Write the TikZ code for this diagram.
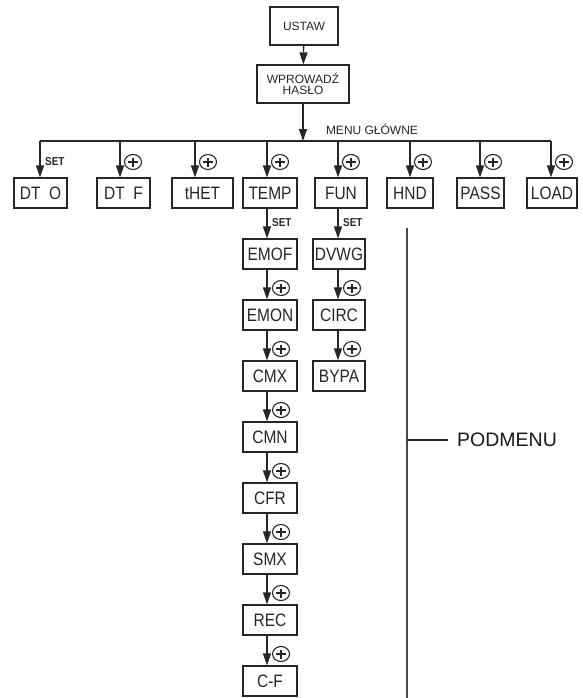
\documentclass[tikz,border=0pt]{standalone}
\usepackage{fontspec}
\setmainfont{Liberation Sans}
\newfontfamily\boxfont[FakeStretch=0.86]{Liberation Sans}
\usetikzlibrary{arrows.meta,shapes.geometric}

\tikzset{
  ink/.style={draw=black!85},
  box/.style={ink, line width=1.2pt, minimum height=30pt, inner sep=0pt,
    text=black!85, font=\boxfont\fontsize{18}{20}\selectfont},
  topbox/.style={ink, line width=1.2pt, minimum height=38pt, inner sep=0pt,
    align=center, text=black!85, font=\fontsize{12}{12}\selectfont},
  ln/.style={ink, line width=1.3pt},
  arr/.style={ln, -{Triangle[length=12pt,width=8pt]}},
  setlbl/.style={anchor=west, inner sep=0pt, text=black!85,
    font=\bfseries\boxfont\fontsize{11.5}{12}\selectfont},
  plusmark/.style={ellipse, ink, line width=1.1pt, minimum width=17pt,
    minimum height=15pt, inner sep=0pt,
    path picture={\draw[black!85, line width=1.2pt]
      (path picture bounding box.center) ++(-5pt,0pt) -- ++(10pt,0pt)
      (path picture bounding box.center) ++(0pt,-4.5pt) -- ++(0pt,9pt);}},
}

\begin{document}
\begin{tikzpicture}[x=1pt,y=-1pt]
\useasboundingbox (0,0) rectangle (583,698);

% entry
\node[topbox, minimum width=68pt] (ustaw) at (304,26) {USTAW};
\node[topbox, minimum width=92pt] (haslo) at (303,84) {WPROWADŹ\\[-1pt]HASŁO};
\draw[arr] (ustaw) -- (haslo);

% main menu bus
\coordinate (busL) at (40,141);
\coordinate (busR) at (551,141);
\coordinate (busM) at (303,141);
\draw[ln] (busL) -- (busR);
\draw[arr] (haslo) -- (busM);
\node[inner sep=0pt, text=black!85, font=\fontsize{12}{14}\selectfont] (menu) at (372,129) {MENU GŁÓWNE};

% main menu items
\node[box, minimum width=53pt] (dto)  at (40.5,193) {DT~~O};
\node[box, minimum width=53pt] (dtf)  at (123.5,193) {DT~~F};
\node[box, minimum width=61pt] (thet) at (202.5,193) {tHET};
\node[box, minimum width=54pt] (temp) at (270,193) {TEMP};
\node[box, minimum width=52pt] (fun)  at (341,193) {FUN};
\node[box, minimum width=46pt] (hnd)  at (410,193) {HND};
\node[box, minimum width=47pt] (pass) at (480.5,193) {PASS};
\node[box, minimum width=50pt] (load) at (552,193) {LOAD};

\coordinate (d1) at (40,141);
\coordinate (d2) at (120,141);
\coordinate (d3) at (195,141);
\coordinate (d4) at (267,141);
\coordinate (d5) at (338,141);
\coordinate (d6) at (410,141);
\coordinate (d7) at (480,141);
\coordinate (d8) at (551,141);
\draw[arr] (d1) -- (d1 |- dto.north);
\draw[arr] (d2) -- (d2 |- dtf.north);
\draw[arr] (d3) -- (d3 |- thet.north);
\draw[arr] (d4) -- (d4 |- temp.north);
\draw[arr] (d5) -- (d5 |- fun.north);
\draw[arr] (d6) -- (d6 |- hnd.north);
\draw[arr] (d7) -- (d7 |- pass.north);
\draw[arr] (d8) -- (d8 |- load.north);

\node[setlbl] (set1) at (45,162) {SET};
\node[plusmark] (p2) at (133,162) {};
\node[plusmark] (p3) at (208,162) {};
\node[plusmark] (p4) at (280,162) {};
\node[plusmark] (p5) at (351,162) {};
\node[plusmark] (p6) at (423,162) {};
\node[plusmark] (p7) at (493,162) {};
\node[plusmark] (p8) at (564,162) {};

% TEMP submenu
\node[box, minimum width=54pt] (emof) at (270,254) {EMOF};
\node[box, minimum width=54pt] (emon) at (270,315) {EMON};
\node[box, minimum width=54pt] (cmx)  at (270,376) {CMX};
\node[box, minimum width=54pt] (cmn)  at (270,437) {CMN};
\node[box, minimum width=54pt] (cfr)  at (270,498) {CFR};
\node[box, minimum width=54pt] (smx)  at (270,559) {SMX};
\node[box, minimum width=54pt] (rec)  at (270,620) {REC};
\node[box, minimum width=54pt] (cf)   at (270,681) {C-F};

\coordinate (tx) at (267,0);
\draw[arr] (tx |- temp.south) -- (tx |- emof.north);
\draw[arr] (tx |- emof.south) -- (tx |- emon.north);
\draw[arr] (tx |- emon.south) -- (tx |- cmx.north);
\draw[arr] (tx |- cmx.south)  -- (tx |- cmn.north);
\draw[arr] (tx |- cmn.south)  -- (tx |- cfr.north);
\draw[arr] (tx |- cfr.south)  -- (tx |- smx.north);
\draw[arr] (tx |- smx.south)  -- (tx |- rec.north);
\draw[arr] (tx |- rec.south)  -- (tx |- cf.north);

\node[setlbl] (set2) at (272,223) {SET};
\node[plusmark] (t2) at (281,288) {};
\node[plusmark] (t3) at (281,349) {};
\node[plusmark] (t4) at (281,410) {};
\node[plusmark] (t5) at (281,471) {};
\node[plusmark] (t6) at (281,532) {};
\node[plusmark] (t7) at (281,593) {};
\node[plusmark] (t8) at (281,654) {};

% FUN submenu
\node[box, minimum width=52pt] (dvwg) at (339,254) {DVWG};
\node[box, minimum width=52pt] (circ) at (339,315) {CIRC};
\node[box, minimum width=52pt] (bypa) at (339,376) {BYPA};

\coordinate (fx) at (338,0);
\draw[arr] (fx |- fun.south)  -- (fx |- dvwg.north);
\draw[arr] (fx |- dvwg.south) -- (fx |- circ.north);
\draw[arr] (fx |- circ.south) -- (fx |- bypa.north);

\node[setlbl] (set3) at (343,223) {SET};
\node[plusmark] (f2) at (352,288) {};
\node[plusmark] (f3) at (352,349) {};

% submenu bracket
\coordinate (subT) at (407,228);
\coordinate (subB) at (407,698);
\coordinate (subM) at (407,440);
\coordinate (subE) at (448,440);
\draw[draw=black!70, line width=1.4pt] (subT) -- (subB);
\draw[draw=black!85, line width=1.2pt] (subM) -- (subE);
\node[anchor=west, inner sep=0pt, text=black!90, font=\fontsize{19.5}{22}\selectfont] (podmenu) at (457,440) {PODMENU};
\end{tikzpicture}
\end{document}
